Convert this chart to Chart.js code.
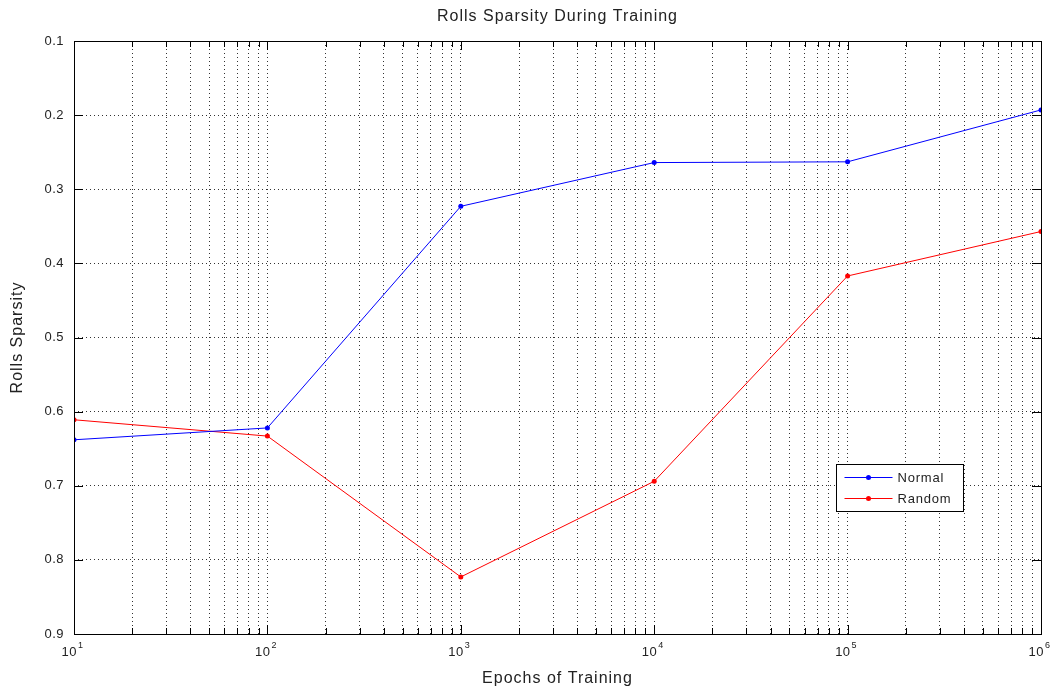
<!DOCTYPE html>
<html>
<head>
<meta charset="utf-8">
<title>Rolls Sparsity During Training</title>
<script src="https://cdn.jsdelivr.net/npm/chart.js@4.4.1/dist/chart.umd.min.js"></script>
<style>
  html, body { margin: 0; padding: 0; background: #fff; }
  #wrap { width: 1052px; height: 687px; }
</style>
</head>
<body>
<div id="wrap"><canvas id="chart" width="1052" height="687"></canvas></div>
<script>
const epochs = [1e1, 1e2, 1e3, 1e4, 1e5, 1e6];
const normalSparsity = [0.638, 0.622, 0.323, 0.264, 0.263, 0.193];
const randomSparsity = [0.611, 0.633, 0.823, 0.694, 0.417, 0.357];
const yTicks = [0.1, 0.2, 0.3, 0.4, 0.5, 0.6, 0.7, 0.8, 0.9];
const xDecades = [1, 2, 3, 4, 5, 6];

const FONT = 'Liberation Sans, Arial, sans-serif';

// every 1..9 x 10^n position, for matlab-style minor grid
const xGridTicks = [];
for (let e = 1; e < 6; e++) {
    for (let m = 1; m < 10; m++) xGridTicks.push(m * Math.pow(10, e));
}
xGridTicks.push(1e6);

const gridDash = [1, 3];

// axis frame, labels, inward tick marks, legend box
const matlabAxes = {
    id: 'matlabAxes',
    afterDraw(chart) {
        const { ctx, chartArea: a, scales: { x, y } } = chart;
        ctx.save();
        ctx.strokeStyle = '#000';
        ctx.lineWidth = 1;
        ctx.strokeRect(Math.round(a.left) + 0.5, Math.round(a.top) + 0.5,
            Math.round(a.right - a.left), Math.round(a.bottom - a.top));

        // x ticks, inward top and bottom
        xGridTicks.forEach(v => {
            const px = Math.round(x.getPixelForValue(v)) + 0.5;
            const major = Math.abs(Math.log10(v) % 1) < 1e-9;
            const len = major ? 9 : 6;
            ctx.beginPath();
            ctx.moveTo(px, a.bottom); ctx.lineTo(px, a.bottom - len);
            ctx.moveTo(px, a.top); ctx.lineTo(px, a.top + len);
            ctx.stroke();
        });
        // y ticks, inward left and right
        yTicks.forEach(v => {
            const py = Math.round(y.getPixelForValue(v)) + 0.5;
            ctx.beginPath();
            ctx.moveTo(a.left, py); ctx.lineTo(a.left + 9, py);
            ctx.moveTo(a.right, py); ctx.lineTo(a.right - 9, py);
            ctx.stroke();
        });

        ctx.fillStyle = '#222';
        // y tick labels
        ctx.font = '13px ' + FONT;
        ctx.letterSpacing = '0.5px';
        ctx.textAlign = 'right';
        ctx.textBaseline = 'middle';
        yTicks.forEach(v => {
            ctx.fillText(v.toFixed(1), a.left - 10, y.getPixelForValue(v));
        });

        // x tick labels as 10^n
        xDecades.forEach(n => {
            const px = x.getPixelForValue(Math.pow(10, n));
            ctx.font = '13px ' + FONT;
            ctx.textAlign = 'right';
            ctx.textBaseline = 'alphabetic';
            ctx.fillText('10', px + 3, a.bottom + 22);
            ctx.font = '9px ' + FONT;
            ctx.textAlign = 'left';
            ctx.fillText(String(n), px + 4, a.bottom + 14);
        });

        // title and axis titles
        ctx.letterSpacing = '1px';
        ctx.font = '16px ' + FONT;
        ctx.textAlign = 'center';
        ctx.textBaseline = 'middle';
        ctx.fillText('Rolls Sparsity During Training', (a.left + a.right) / 2, 17);
        ctx.fillText('Epochs of Training', (a.left + a.right) / 2, 679);
        ctx.save();
        ctx.translate(18, (a.top + a.bottom) / 2);
        ctx.rotate(-Math.PI / 2);
        ctx.fillText('Rolls Sparsity', 0, 0);
        ctx.restore();

        // legend
        const lx = 836.5, ly = 464.5, lw = 127, lh = 47;
        ctx.fillStyle = '#fff';
        ctx.fillRect(lx, ly, lw, lh);
        ctx.strokeStyle = '#000';
        ctx.strokeRect(lx, ly, lw, lh);
        ctx.letterSpacing = '0.8px';
        chart.data.datasets.forEach((ds, i) => {
            const cy = ly + 13 + i * 21;
            ctx.strokeStyle = ds.borderColor;
            ctx.beginPath();
            ctx.moveTo(lx + 8, cy); ctx.lineTo(lx + 56, cy);
            ctx.stroke();
            ctx.fillStyle = ds.borderColor;
            ctx.beginPath();
            ctx.arc(lx + 32, cy, 2.5, 0, Math.PI * 2);
            ctx.fill();
            ctx.fillStyle = '#222';
            ctx.font = '13px ' + FONT;
            ctx.textAlign = 'left';
            ctx.fillText(ds.label, lx + 61, cy + 1);
        });
        ctx.restore();
    }
};

new Chart(document.getElementById('chart'), {
    type: 'line',
    data: {
        datasets: [
            {
                label: 'Normal',
                data: epochs.map((e, i) => ({ x: e, y: normalSparsity[i] })),
                borderColor: '#0000ff',
                backgroundColor: '#0000ff',
                borderWidth: 1,
                pointRadius: 2.5,
                pointBorderWidth: 0,
                tension: 0
            },
            {
                label: 'Random',
                data: epochs.map((e, i) => ({ x: e, y: randomSparsity[i] })),
                borderColor: '#ff0000',
                backgroundColor: '#ff0000',
                borderWidth: 1,
                pointRadius: 2.5,
                pointBorderWidth: 0,
                tension: 0
            }
        ]
    },
    options: {
        responsive: false,
        animation: false,
        events: [],
        layout: { padding: { left: 74, right: 11, top: 41, bottom: 53 } },
        plugins: {
            legend: { display: false },
            tooltip: { enabled: false }
        },
        scales: {
            x: {
                type: 'logarithmic',
                min: 10,
                max: 1e6,
                afterBuildTicks: axis => { axis.ticks = xGridTicks.map(v => ({ value: v })); },
                ticks: { display: false },
                grid: { color: '#333', lineWidth: 1, drawTicks: false },
                border: { display: false, dash: gridDash }
            },
            y: {
                reverse: true,
                min: 0.1,
                max: 0.9,
                afterBuildTicks: axis => { axis.ticks = yTicks.map(v => ({ value: v })); },
                ticks: { display: false },
                grid: { color: '#333', lineWidth: 1, drawTicks: false },
                border: { display: false, dash: gridDash }
            }
        }
    },
    plugins: [matlabAxes]
});
</script>
</body>
</html>
